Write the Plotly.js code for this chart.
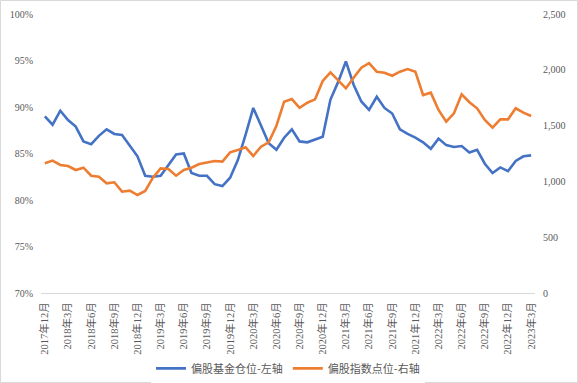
<!DOCTYPE html>
<html>
<head>
<meta charset="utf-8">
<script src="https://cdn.plot.ly/plotly-3.0.1.min.js"></script>
<style>
html,body{margin:0;padding:0;background:#fff;}
#chart{width:578px;height:383px;}
</style>
</head>
<body>
<div id="chart"></div>
<script>
// Months from 2017年12月 to 2023年3月
const months = [
 "2017年12月","2018年1月","2018年2月","2018年3月","2018年4月","2018年5月","2018年6月","2018年7月","2018年8月","2018年9月","2018年10月","2018年11月",
 "2018年12月","2019年1月","2019年2月","2019年3月","2019年4月","2019年5月","2019年6月","2019年7月","2019年8月","2019年9月","2019年10月","2019年11月",
 "2019年12月","2020年1月","2020年2月","2020年3月","2020年4月","2020年5月","2020年6月","2020年7月","2020年8月","2020年9月","2020年10月","2020年11月",
 "2020年12月","2021年1月","2021年2月","2021年3月","2021年4月","2021年5月","2021年6月","2021年7月","2021年8月","2021年9月","2021年10月","2021年11月",
 "2021年12月","2022年1月","2022年2月","2022年3月","2022年4月","2022年5月","2022年6月","2022年7月","2022年8月","2022年9月","2022年10月","2022年11月",
 "2022年12月","2023年1月","2023年2月","2023年3月"
];

// 偏股基金仓位 (%), left axis
const fundPosition = [
 89.0,88.1,89.6,88.6,87.9,86.3,86.0,86.9,87.6,87.1,87.0,85.9,
 84.7,82.6,82.5,82.6,83.8,84.9,85.0,82.9,82.6,82.6,81.7,81.5,
 82.4,84.3,87.0,89.9,88.0,86.1,85.4,86.7,87.6,86.3,86.2,86.5,
 86.8,90.8,92.7,94.9,92.4,90.6,89.7,91.1,89.9,89.3,87.6,87.1,
 86.7,86.2,85.5,86.6,85.9,85.7,85.8,85.1,85.4,83.9,82.9,83.5,
 83.1,84.2,84.7,84.8
];

// 偏股指数点位, right axis
const indexLevel = [
 1162,1186,1147,1138,1102,1123,1051,1042,983,992,908,917,
 878,914,1033,1117,1111,1051,1102,1123,1156,1168,1183,1177,
 1260,1281,1305,1228,1311,1350,1499,1714,1738,1660,1705,1735,
 1900,1977,1909,1834,1929,2019,2060,1983,1974,1947,1983,2007,
 1983,1774,1795,1640,1535,1610,1780,1709,1655,1550,1481,1556,
 1556,1655,1616,1586
];

const seriesNames = ["偏股基金仓位-左轴","偏股指数点位-右轴"];
const tickMonths = months.filter((m,i)=> i % 3 === 0);

const tickFont = {family:"'Liberation Serif','Noto Sans CJK SC',serif", size:10, color:"#595959"};
const xTickFont = {family:"'Liberation Serif','Noto Sans CJK SC',serif", size:10.5, color:"#595959"};

const traces = [
 {x: months, y: fundPosition, name: seriesNames[0], type:"scatter", mode:"lines",
  line:{color:"#4472C4", width:2.6}, yaxis:"y"},
 {x: months, y: indexLevel, name: seriesNames[1], type:"scatter", mode:"lines",
  line:{color:"#ED7D31", width:2.6}, yaxis:"y2"}
];

const layout = {
 width:578, height:383,
 margin:{l:41, r:43, t:14, b:90, autoexpand:false},
 paper_bgcolor:"#fff", plot_bgcolor:"#fff",
 showlegend:true,
 legend:{orientation:"h", x:0.5, xanchor:"center", y:-0.27, yanchor:"middle",
   font:{family:"'Noto Sans CJK SC',sans-serif", size:11, color:"#595959"},
   itemwidth:30},
 xaxis:{type:"category", categoryorder:"array", categoryarray: months,
   range:[-0.5, months.length-0.5], automargin:false,
   tickmode:"array", tickvals: tickMonths, ticktext: tickMonths,
   tickangle:-90, tickfont: xTickFont, ticks:"", showgrid:false, ticklabelstandoff:4,
   showline:true, linecolor:"#d9d9d9", linewidth:1, zeroline:false},
 yaxis:{range:[70,100], dtick:5, ticksuffix:"%", tickfont: tickFont, automargin:false,
   showgrid:false, zeroline:false, showline:false, ticks:"", ticklabelstandoff:7},
 yaxis2:{range:[0,2500], dtick:500, tickformat:",d", tickfont: tickFont, automargin:false,
   overlaying:"y", side:"right", showgrid:false, zeroline:false, showline:false,
   ticks:"", ticklabelstandoff:7},
 shapes:[{type:"rect", xref:"paper", yref:"paper",
   x0:(0.5-41)/494, x1:(577.5-41)/494, y0:(293-382.5)/279, y1:(293-0.5)/279,
   line:{color:"#d9d9d9", width:1}, fillcolor:"rgba(0,0,0,0)", layer:"below"}]
};

Plotly.newPlot("chart", traces, layout, {displayModeBar:false, staticPlot:true});
</script>
</body>
</html>
